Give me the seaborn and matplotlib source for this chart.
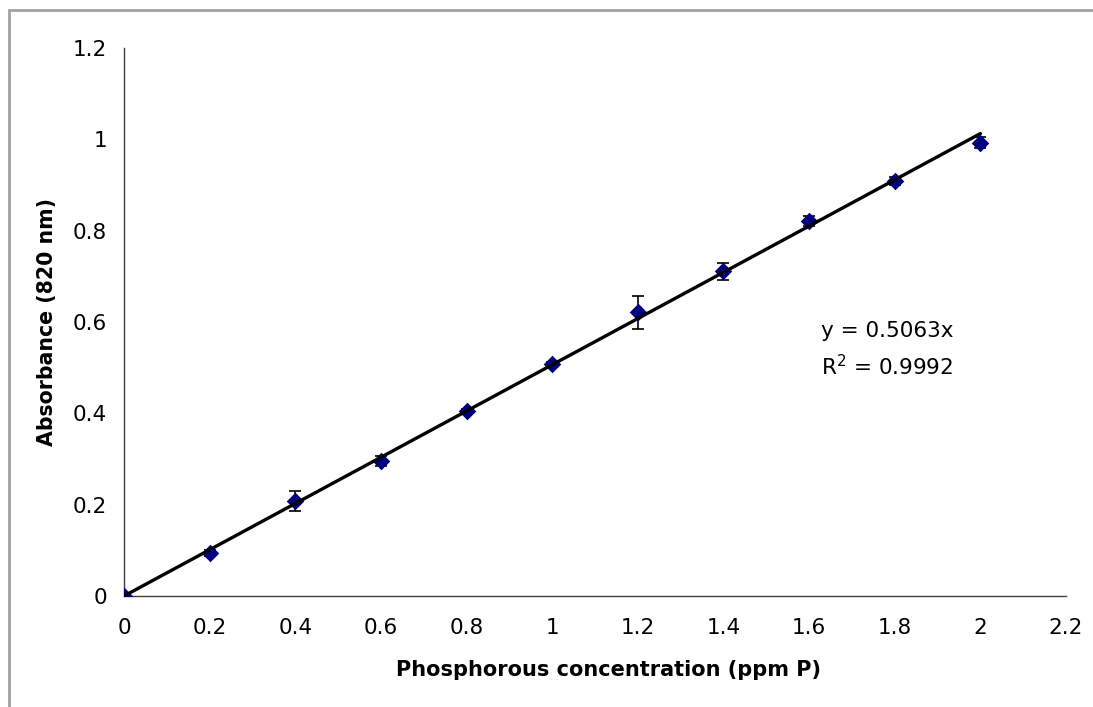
import matplotlib
matplotlib.use("Agg")
import matplotlib.pyplot as plt
from matplotlib.lines import Line2D
import numpy as np
import pandas as pd
import seaborn as sns

# Calibration data: phosphorus standards and mean absorbance with error
concentration = [0.0, 0.2, 0.4, 0.6, 0.8, 1.0, 1.2, 1.4, 1.6, 1.8, 2.0]
absorbance = [0.0, 0.094, 0.208, 0.296, 0.405, 0.508, 0.621, 0.711, 0.821, 0.909, 0.993]
abs_error = [0.0, 0.006, 0.022, 0.011, 0.004, 0.005, 0.036, 0.018, 0.011, 0.009, 0.012]

# Linear fit through the origin
slope = 0.5063
r_squared = 0.9992
fit_x = [0.0, 2.0]

x_ticks = [0.0, 0.2, 0.4, 0.6, 0.8, 1.0, 1.2, 1.4, 1.6, 1.8, 2.0, 2.2]
y_ticks = [0.0, 0.2, 0.4, 0.6, 0.8, 1.0, 1.2]

sns.set_theme(style="white")
plt.rcParams["font.family"] = ["DejaVu Sans"]
plt.rcParams["mathtext.fontset"] = "dejavusans"
plt.rcParams["text.color"] = "black"
plt.rcParams["axes.labelcolor"] = "black"

FS = 15.5
W, H = 1093, 707
fig = plt.figure(figsize=(W / 100, H / 100), dpi=100)
ax = fig.add_axes([124 / W, 1 - 596 / H, (1066 - 124) / W, (596 - 48) / H])

df = pd.DataFrame({"conc": concentration, "abs": absorbance, "err": abs_error})
fit_df = pd.DataFrame({"conc": fit_x, "abs": [slope * v for v in fit_x]})

ax.errorbar(df["conc"], df["abs"], yerr=df["err"], fmt="none",
            ecolor="black", elinewidth=1.2, capsize=4.6, capthick=1.2, zorder=2)
sns.scatterplot(data=df, x="conc", y="abs", marker="D", s=80, color="#000080",
                edgecolor="#000080", linewidth=0, ax=ax, zorder=3)
sns.lineplot(data=fit_df, x="conc", y="abs", color="black", linewidth=2.4,
             ax=ax, zorder=4)

ax.set_xlim(0, 2.2)
ax.set_ylim(0, 1.2)
ax.set_xticks(x_ticks)
ax.set_yticks(y_ticks)
ax.set_xticklabels([f"{v:g}" for v in x_ticks])
ax.set_yticklabels([f"{v:g}" for v in y_ticks])

for side in ("top", "right"):
    ax.spines[side].set_visible(False)
for side in ("left", "bottom"):
    ax.spines[side].set_color("#404040")
    ax.spines[side].set_linewidth(1.0)

ax.tick_params(axis="both", which="major", direction="out", width=1,
               color="#404040", labelsize=FS, labelcolor="black")
ax.tick_params(axis="x", length=5, pad=10.5)
ax.tick_params(axis="y", length=6.5, pad=5.5)

ax.set_xlabel("Phosphorous concentration (ppm P)", fontsize=FS - 0.5,
              fontweight="bold", color="black")
ax.set_ylabel("Absorbance (820 nm)", fontsize=FS - 0.7, fontweight="bold",
              color="black")
ax.xaxis.set_label_coords((609 - 124) / 942, (596 - 660) / 548)
ax.yaxis.set_label_coords((57 - 124) / 942, 0.5)

ax.text((821 - 124) / 942, (596 - 337) / 548, f"y = {slope}x",
        transform=ax.transAxes, fontsize=FS, va="baseline", ha="left",
        color="black")
ax.text((821 - 124) / 942, (596 - 375) / 548, f"R$^2$ = {r_squared}",
        transform=ax.transAxes, fontsize=FS, va="baseline", ha="left",
        color="black")

# Chart area frame (top and left edges visible)
frame_kw = dict(color="#a0a0a0", linewidth=2, transform=fig.transFigure)
fig.add_artist(Line2D([9 / W, 1.0], [1 - 10 / H, 1 - 10 / H], **frame_kw))
fig.add_artist(Line2D([9 / W, 9 / W], [0.0, 1 - 10 / H], **frame_kw))

fig.savefig("out.png", dpi=100)
